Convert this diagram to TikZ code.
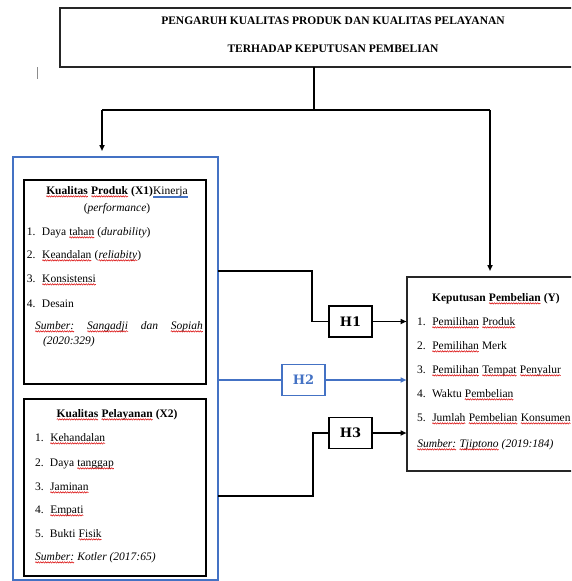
\documentclass[tikz,border=0pt]{standalone}
\usepackage{fontspec}
\setmainfont{Liberation Serif}
\newfontfamily\hfont{DejaVu Serif}
\usetikzlibrary{arrows.meta,decorations.pathmorphing}
\definecolor{wblue}{RGB}{68,114,196}
\newcommand\sq[1]{\tikz[baseline=(sqw.base)]{\node[inner sep=0pt,outer sep=0pt,anchor=base](sqw){#1};\draw[red!85!black,line width=0.5pt,decorate,decoration={snake,amplitude=0.7pt,segment length=2.4pt}]([yshift=-2.4pt]sqw.base west)--([yshift=-2.4pt]sqw.base east);}}
\newcommand\blu[1]{\tikz[baseline=(blw.base)]{\node[inner sep=0pt,outer sep=0pt,anchor=base](blw){#1};\draw[wblue,line width=0.6pt]([yshift=-1.8pt]blw.base west)--([yshift=-1.8pt]blw.base east);\draw[wblue,line width=0.6pt]([yshift=-3.2pt]blw.base west)--([yshift=-3.2pt]blw.base east);}}
\newcommand\itm[2]{\makebox[15pt][l]{#1}#2}
\tikzset{
  txt/.style={inner sep=0pt,outer sep=0pt,anchor=base west,font=\fontsize{11.5}{14}\selectfont},
  ctxt/.style={inner sep=0pt,outer sep=0pt,anchor=base,font=\fontsize{11.5}{14}\selectfont},
  ttl/.style={inner sep=0pt,outer sep=0pt,anchor=base,font=\fontsize{11.5}{14}\selectfont\bfseries},
  frame/.style={draw=black!85,line width=1.2pt,anchor=north west,inner sep=0pt,outer sep=0pt},
  inbox/.style={draw=black,line width=1.8pt,anchor=north west,inner sep=0pt,outer sep=0pt},
  hbox/.style={draw=black,line width=1.5pt,minimum width=43pt,minimum height=31pt,inner sep=0pt,font=\hfont\fontsize{13}{15}\selectfont\bfseries},
  conn/.style={draw=black,line width=1.6pt},
  arr/.style={draw=black,line width=1.5pt,-{Triangle[length=6pt,width=5pt]}},
  bconn/.style={draw=wblue,line width=2pt},
  barr/.style={draw=wblue,line width=2pt,-{Triangle[length=6pt,width=5pt]}}
}
\begin{document}
\begin{tikzpicture}[x=1pt,y=-1pt]
\useasboundingbox (0,0) rectangle (571,581);
\clip (0,0) rectangle (571,581);
\fill[white] (0,0) rectangle (571,581);

% title box
\node[frame,minimum width=540pt,minimum height=59pt] (title) at (60,8) {};
\node[ttl] (t1) at (333,24) {PENGARUH KUALITAS PRODUK DAN KUALITAS PELAYANAN};
\node[ttl] (t2) at (333,52) {TERHADAP KEPUTUSAN PEMBELIAN};

% cursor mark
\draw[black!45,line width=0.8pt] (37,67) -- (37,79);

% boxes
\node[draw=wblue,line width=2pt,anchor=north west,inner sep=0pt,outer sep=0pt,minimum width=205pt,minimum height=423pt] (bluebox) at (13,157) {};
\node[inbox,minimum width=182pt,minimum height=204pt] (prod) at (24,180) {};
\node[inbox,minimum width=182pt,minimum height=177pt] (pel) at (24,399) {};
\node[frame,minimum width=193pt,minimum height=194pt] (kep) at (407,277) {};

% hypothesis boxes
\node[hbox] (h1) at (350.5,321.5) {H1};
\node[hbox,draw=wblue,text=wblue] (h2) at (303.5,380) {H2};
\node[hbox] (h3) at (350.5,433) {H3};

% top connectors
\coordinate (jc) at (314,110);
\coordinate (jl) at (102,110);
\coordinate (jr) at (490,110);
\draw[conn] (title.south -| jc) -- (jc);
\draw[conn] (jl) -- (jr);
\draw[arr,shorten >=6pt] (jl) -- (bluebox.north -| jl);
\draw[arr,shorten >=6pt] (jr) -- (kep.north -| jr);

% H1
\coordinate (a1) at (312,271);
\draw[conn] (bluebox.east |- a1) -- (a1) |- (h1.west);
\draw[arr,shorten >=0.5pt] (h1.east) -- (kep.west |- h1.east);
% H2
\draw[bconn] (bluebox.east |- h2.west) -- (h2.west);
\draw[barr,shorten >=0.5pt] (h2.east) -- (kep.west |- h2.east);
% H3
\coordinate (a3) at (313,496);
\draw[conn] (bluebox.east |- a3) -- (a3) |- (h3.west);
\draw[arr,shorten >=0.5pt] (h3.east) -- (kep.west |- h3.east);

% Kualitas Produk text
\node[ttl] (p0) at (117,194) {\sq{Kualitas} \sq{Produk} (X1)\blu{\mdseries Kinerja}};
\node[ctxt] (p0b) at (117,211) {(\textit{performance})};
\node[txt] (p1) at (27,235) {\itm{1.}{Daya \sq{tahan} (\textit{durability})}};
\node[txt] (p2) at (27,258) {\itm{2.}{\sq{Keandalan} (\sq{\textit{reliabity}})}};
\node[txt] (p3) at (27,282) {\itm{3.}{\sq{Konsistensi}}};
\node[txt] (p4) at (27,307) {\itm{4.}{Desain}};
\node[txt] (p5) at (35,329) {\itshape\makebox[168pt][s]{\sq{Sumber:} \sq{Sangadji} dan \sq{Sopiah}}};
\node[txt] (p6) at (43,344) {\itshape (2020:329)};

% Kualitas Pelayanan text
\node[ttl] (q0) at (117,417) {\sq{Kualitas} \sq{Pelayanan} (X2)};
\node[txt] (q1) at (35,441) {\itm{1.}{\sq{Kehandalan}}};
\node[txt] (q2) at (35,466) {\itm{2.}{Daya \sq{tanggap}}};
\node[txt] (q3) at (35,490) {\itm{3.}{\sq{Jaminan}}};
\node[txt] (q4) at (35,513) {\itm{4.}{\sq{Empati}}};
\node[txt] (q5) at (35,537) {\itm{5.}{Bukti \sq{Fisik}}};
\node[txt] (q6) at (35,560) {\itshape\sq{Sumber:} Kotler (2017:65)};

% Keputusan Pembelian text
\node[ttl] (k0) at (496,301) {Keputusan \sq{Pembelian} (Y)};
\node[txt] (k1) at (417,325) {\itm{1.}{\sq{Pemilihan} \sq{Produk}}};
\node[txt] (k2) at (417,349) {\itm{2.}{\sq{Pemilihan} Merk}};
\node[txt] (k3) at (417,373) {\itm{3.}{\sq{Pemilihan} \sq{Tempat} \sq{Penyalur}}};
\node[txt] (k4) at (417,397) {\itm{4.}{Waktu \sq{Pembelian}}};
\node[txt] (k5) at (417,421) {\itm{5.}{\sq{Jumlah} \sq{Pembelian} \sq{Konsumen}}};
\node[txt] (k6) at (417,447) {\itshape\sq{Sumber:} \sq{Tjiptono} (2019:184)};
\end{tikzpicture}
\end{document}
